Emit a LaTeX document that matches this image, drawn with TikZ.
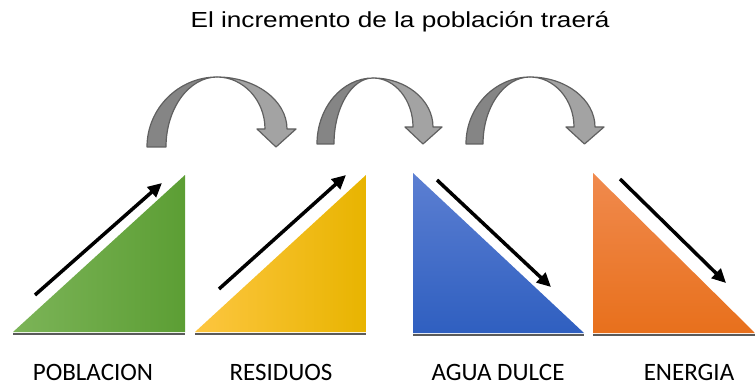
\documentclass[tikz,border=0pt]{standalone}
\usepackage{fontspec}
\setmainfont{Liberation Sans}
\newfontfamily\labelfont{Carlito}
\usetikzlibrary{arrows.meta}
\definecolor{arrowdark}{HTML}{858585}
\definecolor{arrowlight}{HTML}{A3A3A3}
\definecolor{arrowline}{HTML}{606060}
\definecolor{shadowgray}{HTML}{5A5A5A}
\tikzset{
  lbl/.style={font=\labelfont\fontsize{25}{28}\selectfont, anchor=base, inner sep=0pt},
  ttl/.style={font=\fontsize{21.8}{24}\selectfont, anchor=base, inner sep=0pt},
  trendarrow/.style={line width=3.5pt, -{Triangle[length=14pt,width=13pt]}},
  baseshadow/.style={draw=shadowgray, line width=2pt},
  bandline/.style={draw=arrowline, line width=1.2pt, line join=round}
}
% #1 Lo, #2 Li, #3 P, #4 py, #5 by, #6 Ri, #7 Ro, #8 wy
\newcommand\grayarc[8]{%
  \path[bandline, fill=arrowdark]
    (#1,#5) -- (#2,#5)
    .. controls (#2,{#5-0.55*(#5-#4)}) and ({#3-0.55*(#3-#2)},#4) .. (#3,#4)
    .. controls ({#3-0.55*(#3-#1)},#4) and (#1,{#5-0.55*(#5-#4)}) .. (#1,#5) -- cycle;
  \path[bandline, fill=arrowlight]
    (#3,#4)
    .. controls ({#3+0.55*(#7-#3)},#4) and (#7,{#8-0.55*(#8-#4)}) .. (#7,#8)
    -- ({#7+9},#8) -- ({(#6+#7)/2},#5) -- ({#6-8},#8) -- (#6,#8)
    .. controls (#6,{#8-0.55*(#8-#4)}) and ({#3+0.55*(#6-#3)},#4) .. (#3,#4) -- cycle;
}
\begin{document}
\begin{tikzpicture}[x=1pt,y=-1pt]
\useasboundingbox (0,0) rectangle (755,385);

\node[ttl] (title) at (400,28) {\scalebox{1.2}[1]{El incremento de la población traerá}};

% curved arrows
\grayarc{147}{166}{217}{77}{147}{265}{287}{129}
\grayarc{317}{334}{373}{78}{144}{413}{433}{127}
\grayarc{466}{483}{530}{77}{144}{574}{595}{127}

% triangles
\shade[left color={rgb,255:red,124;green,180;blue,88}, right color={rgb,255:red,92;green,158;blue,52}]
  (13,332) -- (185,175) -- (185,332) -- cycle;
\draw[baseshadow] (13,333.5) -- (185,333.5);

\shade[left color={rgb,255:red,253;green,198;blue,64}, middle color={rgb,255:red,255;green,192;blue,0}, right color={rgb,255:red,232;green,180;blue,0}]
  (195,332) -- (366,175) -- (366,332) -- cycle;
\draw[baseshadow] (195,333.5) -- (366,333.5);

\shade[top color={rgb,255:red,92;green,127;blue,210}, bottom color={rgb,255:red,47;green,95;blue,192}]
  (413,173) -- (413,333) -- (584,333) -- cycle;
\draw[baseshadow] (413,334.5) -- (584,334.5);

\shade[top color={rgb,255:red,240;green,138;blue,78}, bottom color={rgb,255:red,232;green,112;blue,28}]
  (593,173) -- (593,333) -- (755,333) -- cycle;
\draw[baseshadow] (593,334.5) -- (755,334.5);

% trend arrows
\coordinate (g1) at (35,295);  \coordinate (g2) at (162,183);
\coordinate (y1) at (219,289); \coordinate (y2) at (346,175);
\coordinate (b1) at (437,180); \coordinate (b2) at (551,287);
\coordinate (o1) at (620,179); \coordinate (o2) at (726,283);
\draw[trendarrow] (g1) -- (g2);
\draw[trendarrow] (y1) -- (y2);
\draw[trendarrow] (b1) -- (b2);
\draw[trendarrow] (o1) -- (o2);

% labels
\node[lbl] (pob) at (93,380) {POBLACION};
\node[lbl] (res) at (281,380) {RESIDUOS};
\node[lbl] (agua) at (498,380) {AGUA DULCE};
\node[lbl] (ener) at (689,380) {ENERGIA};
\end{tikzpicture}
\end{document}
